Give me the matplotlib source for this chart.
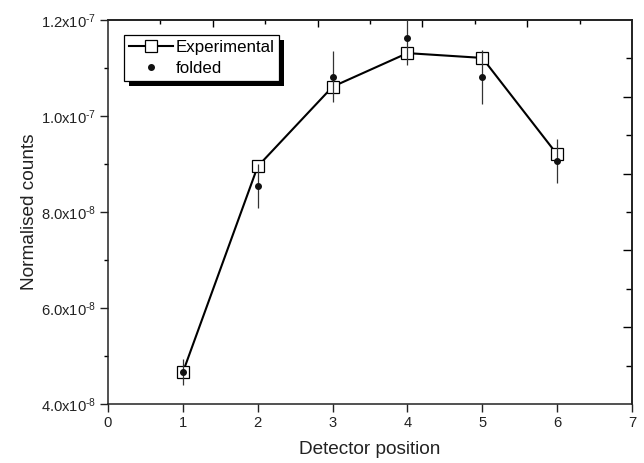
import numpy as np
import matplotlib
matplotlib.use('Agg')
import matplotlib.pyplot as plt
import matplotlib.patheffects as pe
from matplotlib.ticker import FixedLocator, FuncFormatter

plt.rcParams['font.family'] = ['Liberation Sans', 'DejaVu Sans']
plt.rcParams['mathtext.fontset'] = 'custom'
plt.rcParams['mathtext.rm'] = 'Liberation Sans'
plt.rcParams['mathtext.it'] = 'Liberation Sans'

# data
positions = [1, 2, 3, 4, 5, 6]
experimental = [4.66e-8, 8.95e-8, 1.061e-7, 1.131e-7, 1.121e-7, 9.20e-8]
folded = [4.67e-8, 8.54e-8, 1.082e-7, 1.162e-7, 1.081e-7, 9.06e-8]
folded_err = [0.27e-8, 0.455e-8, 0.53e-8, 0.56e-8, 0.56e-8, 0.46e-8]

x_ticks = [0, 1, 2, 3, 4, 5, 6, 7]
y_major = [4e-8, 6e-8, 8e-8, 1.0e-7, 1.2e-7]
y_minor = [5e-8, 7e-8, 9e-8, 1.1e-7]
top_long = [1.4, 2.8, 4.2, 5.6]
top_short = [0.7, 2.1, 3.5, 4.9, 6.3]
right_long = [5.6e-8, 7.2e-8, 8.8e-8, 10.4e-8]
right_short = [4.8e-8, 6.4e-8, 8.0e-8, 9.6e-8, 11.2e-8]


def sci_fmt(v, pos):
    e = int(np.floor(np.log10(v) + 1e-9))
    m = v / 10.0**e
    return '%.1fx10$^{\\text{%d}}$' % (m, e)


fig = plt.figure(figsize=(6.44, 4.63), dpi=100)
ax = fig.add_axes([108/644, 1 - 404/463, 524/644, 384/463])

ax.plot(positions, experimental, color='black', lw=1.5, marker='s', ms=8.4,
        mfc='white', mec='black', mew=0.9, zorder=3, label='Experimental')
ax.errorbar(positions, folded, yerr=folded_err, fmt='none', ecolor='#333333',
            elinewidth=0.9, capsize=0, zorder=4)
ax.plot(positions, folded, ls='none', marker='o', ms=4, color='#111111',
        zorder=5, label='folded')

ax.set_xlim(0, 7)
ax.set_ylim(4e-8, 1.2e-7)
ax.xaxis.set_major_locator(FixedLocator(x_ticks))
ax.yaxis.set_major_locator(FixedLocator(y_major))
ax.yaxis.set_minor_locator(FixedLocator(y_minor))
ax.yaxis.set_major_formatter(FuncFormatter(sci_fmt))
ax.tick_params(axis='both', which='major', direction='out', length=5.5,
               width=1.0, labelsize=10.6, colors='#222222', pad=3)
ax.tick_params(axis='y', which='minor', direction='out', length=3.2, width=1.0)
for sp in ax.spines.values():
    sp.set_linewidth(1.1)
    sp.set_color('#222222')

# top and right axes carry their own tick spacing
top = ax.secondary_xaxis('top')
top.xaxis.set_major_locator(FixedLocator(top_long))
top.xaxis.set_minor_locator(FixedLocator(top_short))
top.tick_params(which='major', direction='in', length=5, width=1.0, labeltop=False)
top.tick_params(which='minor', direction='in', length=3, width=1.0)
top.spines['top'].set_linewidth(1.1)

right = ax.secondary_yaxis('right')
right.yaxis.set_major_locator(FixedLocator(right_long))
right.yaxis.set_minor_locator(FixedLocator(right_short))
right.tick_params(which='major', direction='in', length=6.5, width=1.0, labelright=False)
right.tick_params(which='minor', direction='in', length=4, width=1.0)
right.spines['right'].set_linewidth(1.1)

ax.set_xlabel('Detector position', fontsize=13.7, color='#222222', labelpad=8)
ax.set_ylabel('Normalised counts', fontsize=13.7, color='#222222', labelpad=2)

leg = ax.legend(loc='upper left', bbox_to_anchor=(0.03, 0.962), fontsize=12.2,
                frameon=True, fancybox=False, borderpad=0.3, handlelength=2.6,
                handletextpad=0.15, labelspacing=0.35, borderaxespad=0)
frame = leg.get_frame()
frame.set_edgecolor('black')
frame.set_linewidth(0.9)
frame.set_alpha(1)
frame.set_path_effects([pe.SimplePatchShadow(offset=(3.6, -3.6), shadow_rgbFace='black', alpha=1),
                        pe.Normal()])

fig.savefig('out.png', dpi=100)
